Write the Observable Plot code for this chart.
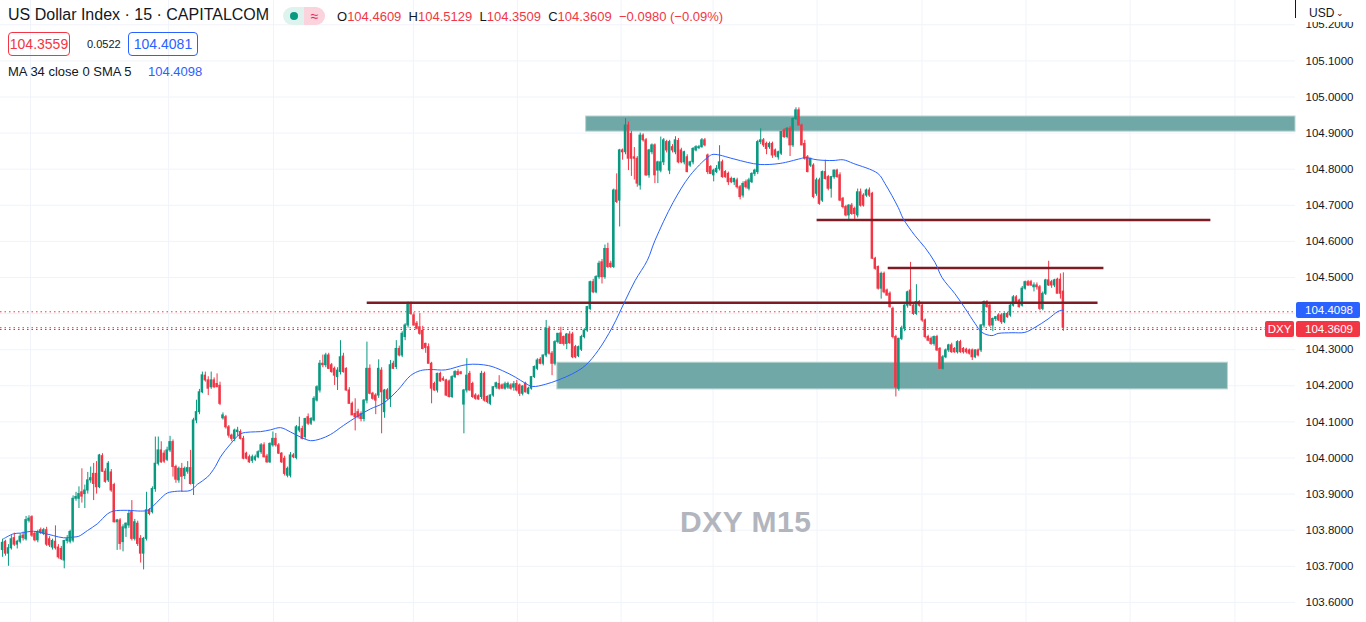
<!DOCTYPE html>
<html><head><meta charset="utf-8">
<script src="https://cdn.jsdelivr.net/npm/d3@7"></script>
<script src="https://cdn.jsdelivr.net/npm/@observablehq/plot@0.6"></script>
<style>
html,body{margin:0;padding:0;background:#fff;overflow:hidden}
body{font-family:"Liberation Sans",Arial,sans-serif;color:#131722}
#wrap{position:relative;width:1366px;height:622px}
#wrap svg{position:absolute;left:0;top:0}
.ov{position:absolute;white-space:nowrap}
.box{position:absolute;box-sizing:border-box;border-radius:4px;font-size:14px;text-align:center;line-height:22px;height:24px}
.tag{position:absolute;box-sizing:border-box;height:16px;line-height:16px;font-size:11.5px;color:#fff}
</style></head><body><div id="wrap"></div>
<script>
// ---------- header texts ----------
const title = "US Dollar Index · 15 · CAPITALCOM";
const lastO = 104.4609, lastH = 104.5129, lastL = 104.3509, lastC = 104.3609;
const changeAbs = "−0.0980", changePct = "(−0.09%)";
const bidText = "104.3559", spreadText = "0.0522", askText = "104.4081";
const maLabel = "MA 34 close 0 SMA 5", maLast = 104.4098;
const symbolTag = "DXY", currency = "USD";
const watermark = "DXY M15";

// ---------- price axis ----------
const yTicks = [103.6,103.7,103.8,103.9,104.0,104.1,104.2,104.3,104.4,104.5,104.6,104.7,104.8,104.9,105.0,105.1,105.2];
// the 104.4000 label sits under the price tags, as in the original
const hiddenTick = 104.4;
// vertical grid (bar index positions)
const gridIdx = [9.5,56.5,92.2,139.8,175.2,210.5,241.8,277.2,312.9,348.3,383.7,419.4];

// ---------- candles [open, high, low, close] ----------
const segA = [
[103.745,103.775,103.725,103.765],[103.768,103.772,103.728,103.735],[103.735,103.760,103.700,103.750],[103.750,103.785,103.745,103.775],
[103.778,103.792,103.755,103.760],[103.760,103.772,103.748,103.768],[103.768,103.790,103.762,103.782],[103.785,103.795,103.770,103.778],
[103.775,103.838,103.770,103.828],[103.826,103.840,103.820,103.832],[103.836,103.840,103.780,103.785],[103.790,103.796,103.768,103.772],
[103.772,103.800,103.765,103.795],[103.800,103.806,103.788,103.792],[103.790,103.805,103.785,103.800],[103.800,103.808,103.755,103.760],
[103.775,103.782,103.752,103.758],[103.752,103.775,103.745,103.770],[103.768,103.812,103.745,103.750],[103.752,103.760,103.720,103.725],
[103.748,103.755,103.716,103.720],[103.716,103.772,103.693,103.770],[103.770,103.785,103.762,103.775],[103.768,103.800,103.762,103.795],
[103.771,103.895,103.765,103.887],[103.887,103.905,103.880,103.892],[103.887,103.920,103.860,103.900],[103.905,103.970,103.875,103.893],
[103.900,103.925,103.860,103.910],[103.910,103.960,103.900,103.938],[103.938,103.975,103.930,103.944],[103.956,103.985,103.882,103.928],
[103.956,103.990,103.900,103.919],[103.919,104.010,103.915,104.007],[104.005,104.012,103.960,103.962],[103.962,103.970,103.930,103.934],
[103.938,103.990,103.932,103.984],[103.960,103.968,103.905,103.910],[103.925,103.930,103.820,103.822],[103.822,103.830,103.744,103.827],
[103.827,103.832,103.745,103.762],[103.767,103.815,103.740,103.808],[103.805,103.820,103.780,103.818],[103.813,103.855,103.805,103.845],
[103.850,103.882,103.770,103.776],[103.776,103.830,103.770,103.822],[103.818,103.825,103.755,103.762],[103.776,103.785,103.709,103.735],
[103.735,103.780,103.690,103.776],[103.776,103.905,103.770,103.855],[103.855,103.860,103.840,103.845],[103.850,103.920,103.845,103.914],
[103.914,104.058,103.905,103.984],[103.984,104.058,103.978,104.021],[104.021,104.045,103.985,103.988],[104.012,104.020,103.985,103.990],
[103.995,104.030,103.990,104.021],[104.021,104.060,104.015,104.044],[104.044,104.050,103.947,103.975],[103.975,103.980,103.930,103.940],
[103.938,103.975,103.930,103.970],[103.970,103.985,103.905,103.948],[103.950,103.975,103.940,103.970],[103.962,103.990,103.955,103.972],
[103.972,104.021,103.925,103.928],[103.928,104.110,103.896,104.104],[104.104,104.160,104.095,104.127],[104.127,104.190,104.120,104.182],
[104.182,104.238,104.178,104.229],[104.228,104.238,104.210,104.215],[104.215,104.225,104.173,104.192],[104.196,104.238,104.190,104.215],
[104.215,104.222,104.192,104.196]
];
const segB = [
[104.205,104.233,104.195,104.196],[104.200,104.210,104.145,104.150],[104.110,104.125,104.105,104.118],[104.113,104.118,104.080,104.085],
[104.085,104.090,104.055,104.062],[104.062,104.066,104.045,104.053],[104.053,104.080,104.045,104.076],[104.072,104.085,104.060,104.076],
[104.072,104.078,104.050,104.053],[104.053,104.060,103.995,103.998],[104.012,104.016,103.995,103.998],[104.002,104.008,103.985,103.988],
[103.992,104.008,103.985,104.002],[103.995,104.008,103.990,104.002],[104.002,104.020,103.998,104.016],[104.016,104.040,104.010,104.035],
[104.035,104.042,104.000,104.002],[104.004,104.010,103.985,103.988],[103.988,104.042,103.985,104.039],[104.035,104.072,104.030,104.053],
[104.053,104.068,104.030,104.035],[104.035,104.040,104.010,104.012],[104.012,104.015,103.985,103.988],[103.998,104.005,103.950,103.956],
[103.951,103.975,103.945,103.970],[103.951,104.015,103.945,104.007],[104.007,104.012,103.998,104.002],[104.000,104.090,103.995,104.085],
[104.076,104.113,104.070,104.085],[104.080,104.088,104.050,104.053],[104.058,104.110,104.050,104.108],[104.113,104.122,104.090,104.095],
[104.095,104.112,104.090,104.108],[104.104,104.170,104.100,104.164],[104.159,104.200,104.155,104.196],[104.187,104.270,104.180,104.261],
[104.261,104.285,104.250,104.257],[104.257,104.290,104.250,104.284],[104.284,104.290,104.245,104.247],[104.257,104.262,104.235,104.238],
[104.247,104.252,104.201,104.228],[104.224,104.250,104.187,104.242],[104.238,104.325,104.230,104.279],[104.281,104.290,104.235,104.238],
[104.247,104.250,104.185,104.187],[104.187,104.195,104.150,104.150],[104.150,104.155,104.118,104.118],[104.122,104.164,104.075,104.113],
[104.127,104.135,104.108,104.113],[104.122,104.128,104.100,104.108],[104.108,104.162,104.100,104.159],[104.159,104.321,104.150,104.247],
[104.247,104.258,104.175,104.178],[104.178,104.182,104.160,104.164],[104.173,104.178,104.120,104.159],[104.173,104.272,104.165,104.247],
[104.242,104.250,104.067,104.182],[104.127,104.190,104.110,104.187],[104.187,104.192,104.160,104.164],[104.164,104.270,104.140,104.257],
[104.261,104.268,104.245,104.247],[104.252,104.325,104.245,104.302],[104.302,104.310,104.280,104.284],[104.284,104.350,104.278,104.344],
[104.335,104.372,104.325,104.367],[104.367,104.432,104.360,104.427],[104.427,104.432,104.395,104.399],[104.395,104.402,104.365,104.367],
[104.372,104.378,104.355,104.358],[104.362,104.400,104.340,104.344],[104.352,104.365,104.300,104.302]
];
const segC = [
[104.316,104.318,104.290,104.305],[104.307,104.316,104.261,104.261],[104.261,104.265,104.150,104.192],[104.205,104.210,104.185,104.187],
[104.187,104.235,104.180,104.233],[104.233,104.238,104.210,104.212],[104.219,104.225,104.212,104.215],[104.215,104.218,104.170,104.173],
[104.212,104.216,104.166,104.169],[104.169,104.228,104.165,104.224],[104.224,104.242,104.220,104.238],[104.238,104.245,104.228,104.230],
[104.237,104.240,104.230,104.233],[104.148,104.190,104.067,104.187],[104.187,104.275,104.180,104.228],[104.233,104.240,104.185,104.187],
[104.205,104.210,104.165,104.169],[104.173,104.178,104.160,104.164],[104.171,104.175,104.160,104.162],[104.169,104.240,104.162,104.233],
[104.233,104.238,104.155,104.159],[104.169,104.172,104.150,104.155],[104.150,104.175,104.145,104.173],[104.173,104.198,104.168,104.196],
[104.196,104.210,104.190,104.207],[104.205,104.228,104.188,104.192],[104.201,104.205,104.190,104.192],[104.192,104.210,104.188,104.204],
[104.195,104.210,104.190,104.205],[104.201,104.206,104.188,104.192],[104.195,104.212,104.185,104.204],[104.205,104.215,104.183,104.187],
[104.201,104.205,104.170,104.178],[104.178,104.200,104.172,104.198],[104.205,104.210,104.180,104.182],[104.178,104.196,104.175,104.192],
[104.192,104.225,104.188,104.224],[104.224,104.255,104.220,104.252],[104.247,104.275,104.242,104.270],[104.272,104.278,104.258,104.261],
[104.261,104.285,104.255,104.284],[104.284,104.381,104.278,104.358],[104.358,104.365,104.285,104.289],[104.289,104.295,104.228,104.261],
[104.261,104.325,104.255,104.321],[104.321,104.345,104.316,104.344],[104.345,104.362,104.315,104.316],[104.335,104.338,104.310,104.316],
[104.316,104.345,104.300,104.342],[104.342,104.350,104.315,104.318],[104.342,104.348,104.275,104.279],[104.307,104.312,104.275,104.279],
[104.282,104.310,104.278,104.307],[104.300,104.340,104.295,104.335],[104.335,104.358,104.330,104.353],[104.353,104.420,104.348,104.418],
[104.413,104.490,104.408,104.487],[104.487,104.495,104.455,104.459],[104.459,104.505,104.455,104.501],[104.501,104.545,104.495,104.538],
[104.542,104.550,104.482,104.501],[104.501,104.590,104.495,104.579],[104.579,104.595,104.525,104.529],[104.538,104.545,104.525,104.529],
[104.529,104.745,104.525,104.741],[104.741,104.787,104.705,104.709],[104.713,104.855,104.640,104.852],[104.852,104.856,104.825,104.847],
[104.847,104.940,104.840,104.921],[104.921,104.930,104.796,104.829],[104.898,104.905,104.780,104.829],[104.833,104.860,104.770,104.829],
[104.829,104.835,104.750,104.760],[104.755,104.900,104.742,104.893]
];
const segD = [
[104.893,104.898,104.875,104.880],[104.880,104.885,104.780,104.783],[104.783,104.855,104.775,104.852],[104.847,104.870,104.840,104.866],
[104.866,104.870,104.760,104.783],[104.796,104.822,104.760,104.819],[104.796,104.889,104.790,104.819],[104.819,104.885,104.810,104.880],
[104.875,104.880,104.845,104.852],[104.796,104.880,104.785,104.875],[104.861,104.868,104.845,104.852],[104.847,104.890,104.840,104.880],
[104.878,104.885,104.815,104.819],[104.852,104.858,104.815,104.819],[104.819,104.850,104.812,104.847],[104.833,104.840,104.790,104.792],
[104.810,104.822,104.805,104.819],[104.819,104.860,104.812,104.856],[104.852,104.865,104.848,104.861],[104.858,104.866,104.855,104.861],
[104.861,104.885,104.858,104.880],[104.880,104.885,104.862,104.866],[104.838,104.842,104.785,104.792],[104.806,104.810,104.785,104.787],
[104.783,104.800,104.765,104.796],[104.792,104.810,104.788,104.801],[104.801,104.865,104.795,104.819],[104.819,104.825,104.775,104.778],
[104.792,104.796,104.775,104.778],[104.787,104.792,104.755,104.764],[104.773,104.778,104.760,104.764],[104.764,104.775,104.755,104.773],
[104.769,104.775,104.745,104.750],[104.750,104.755,104.715,104.723],[104.727,104.765,104.720,104.759],[104.764,104.770,104.745,104.750],
[104.746,104.775,104.740,104.769],[104.764,104.790,104.760,104.787],[104.787,104.800,104.780,104.796],[104.792,104.880,104.785,104.875],
[104.875,104.912,104.868,104.880],[104.880,104.885,104.860,104.866],[104.870,104.875,104.840,104.856],[104.861,104.875,104.855,104.870],
[104.870,104.875,104.830,104.838],[104.852,104.856,104.832,104.838],[104.833,104.850,104.825,104.847],[104.843,104.905,104.838,104.903],
[104.907,104.912,104.885,104.889],[104.889,104.915,104.884,104.912],[104.912,104.918,104.835,104.866],[104.866,104.942,104.860,104.939],
[104.939,104.970,104.935,104.963],[104.963,104.970,104.920,104.921],[104.921,104.925,104.865,104.866],[104.870,104.880,104.825,104.829],
[104.833,104.838,104.790,104.792],[104.810,104.830,104.805,104.829],[104.810,104.815,104.718,104.723],[104.732,104.775,104.725,104.769],
[104.769,104.775,104.700,104.704],[104.713,104.795,104.708,104.792],[104.792,104.825,104.770,104.773],[104.778,104.783,104.740,104.746],
[104.746,104.780,104.720,104.778],[104.778,104.798,104.772,104.796],[104.796,104.800,104.775,104.778],[104.783,104.790,104.710,104.713],
[104.718,104.722,104.690,104.695],[104.695,104.700,104.668,104.672],[104.672,104.702,104.655,104.699]
];
const segE = [
[104.699,104.705,104.672,104.676],[104.690,104.695,104.660,104.676],[104.672,104.745,104.665,104.736],[104.736,104.745,104.695,104.699],
[104.727,104.732,104.695,104.699],[104.727,104.745,104.722,104.741],[104.741,104.748,104.722,104.727],[104.732,104.736,104.550,104.552],
[104.552,104.556,104.520,104.524],[104.529,104.532,104.465,104.469],[104.469,104.515,104.440,104.510],[104.510,104.515,104.455,104.459],
[104.464,104.468,104.448,104.450],[104.455,104.460,104.415,104.418],[104.413,104.418,104.330,104.335],[104.335,104.340,104.169,104.196],
[104.192,104.332,104.185,104.330],[104.330,104.365,104.325,104.358],[104.358,104.425,104.350,104.422],[104.422,104.462,104.415,104.459],
[104.464,104.542,104.420,104.422],[104.422,104.428,104.395,104.399],[104.399,104.480,104.395,104.432],[104.432,104.436,104.418,104.422],
[104.422,104.428,104.376,104.381],[104.381,104.385,104.330,104.335],[104.335,104.340,104.322,104.325],[104.330,104.335,104.312,104.316],
[104.316,104.338,104.310,104.335],[104.335,104.340,104.295,104.298],[104.302,104.306,104.245,104.247],[104.247,104.284,104.244,104.279],
[104.279,104.302,104.275,104.298],[104.298,104.315,104.292,104.312],[104.312,104.318,104.290,104.293],[104.302,104.306,104.290,104.293],
[104.293,104.325,104.288,104.321],[104.321,104.326,104.290,104.293],[104.302,104.306,104.288,104.293],[104.300,104.304,104.288,104.293],
[104.298,104.302,104.285,104.289],[104.298,104.302,104.270,104.279],[104.279,104.300,104.275,104.298],[104.298,104.302,104.280,104.284],
[104.298,104.370,104.292,104.367],[104.367,104.435,104.360,104.432],[104.432,104.436,104.415,104.418],[104.422,104.428,104.362,104.367],
[104.367,104.388,104.350,104.385],[104.385,104.392,104.378,104.390],[104.395,104.400,104.378,104.381],[104.395,104.400,104.370,104.376],
[104.376,104.402,104.372,104.399],[104.399,104.404,104.387,104.390],[104.395,104.425,104.390,104.422],[104.422,104.450,104.418,104.445],
[104.445,104.450,104.428,104.432],[104.436,104.440,104.415,104.418],[104.422,104.475,104.418,104.469],[104.469,104.490,104.465,104.487],
[104.487,104.492,104.475,104.478],[104.487,104.492,104.475,104.478],[104.473,104.485,104.460,104.478],[104.478,104.485,104.465,104.473],
[104.473,104.478,104.408,104.413],[104.413,104.460,104.408,104.455],[104.455,104.495,104.450,104.492],[104.492,104.545,104.475,104.478],
[104.487,104.492,104.470,104.478],[104.478,104.495,104.472,104.492],[104.494,104.498,104.455,104.455],[104.494,104.510,104.440,104.455],
[lastO,lastH,lastL,lastC]
];

// ---------- MA 34 ----------
const maIdx = [0.3,3.7,6.1,10.5,13.9,17.3,20.7,24.1,25.9,28.9,32.3,35.7,37.8,42.5,46.9,49.3,51.4,53.7,56.1,59.5,63.9,66.3,69.7,72.4,74.1,77.6,81,84.4,87.8,91.2,94.6,98,101.4,104.8,108.2,111.6,116,120.7,125.2,129.6,134.4,138.8,142.2,145.6,150.7,158.2,165.3,170.1,174.5,177.9,180.3,184.7,189.1,193.9,198.3,202.7,207.5,211.9,215.3,219.4,222,228.2,234,240,241.8,248.6,253.4,257.8,264.6,271.4,273.1,277.2,282.6,286.1,289.5,297.9,300.3,304.8,306.5,310.5,313.9,317.3,319.7,324.1,327.6,331,333.3,336.7,338.8,343.5,347.9,351.4,355.8,359.2,361];
const maVal = [103.776,103.790,103.792,103.797,103.792,103.785,103.779,103.781,103.783,103.799,103.818,103.845,103.853,103.855,103.853,103.855,103.868,103.887,103.903,103.908,103.910,103.927,103.947,103.976,104.002,104.039,104.067,104.072,104.073,104.078,104.084,104.072,104.058,104.048,104.053,104.065,104.090,104.115,104.136,104.152,104.187,104.228,104.242,104.245,104.244,104.259,104.256,104.242,104.224,104.207,104.198,104.204,104.216,104.233,104.256,104.298,104.362,104.436,104.492,104.547,104.602,104.708,104.783,104.833,104.841,104.829,104.819,104.813,104.816,104.829,104.832,104.826,104.824,104.826,104.816,104.788,104.760,104.694,104.663,104.616,104.583,104.542,104.500,104.455,104.414,104.372,104.348,104.339,104.345,104.347,104.348,104.362,104.385,104.406,104.4098];

// ---------- drawings ----------
const zoneFrom = [198.6, 188.8], zoneTo = [440, 417], zoneLo = [104.904, 104.190], zoneHi = [104.946, 104.264];
const levelFrom = [124.1, 277.2, 301.4], levelTo = [372.8, 411.2, 374.8], levelPrice = [104.430, 104.659, 104.526];
const dotPrice = [104.405, 104.3609, 104.3559], dotColor = ["#f23645", "#f23645", "#2962ff"];

// ---------- build ----------
const candles = [...segA, ...segB, ...segC, ...segD, ...segE].map((d, i) => ({i, o: d[0], h: d[1], l: d[2], c: d[3]}));
const ma = maIdx.map((x, k) => ({x, y: maVal[k]}));
const zones = zoneFrom.map((f, k) => ({from: f, to: zoneTo[k], lo: zoneLo[k], hi: zoneHi[k]}));
const levels = levelFrom.map((f, k) => ({from: f, to: levelTo[k], price: levelPrice[k]}));
const dots = dotPrice.map((p, k) => ({price: p, color: dotColor[k]}));
const axisTicks = yTicks.filter(t => Math.abs(t - hiddenTick) > 1e-9);
const UP = "#089981", DN = "#f23645";
const col = d => d.c >= d.o ? UP : DN;

const chart = Plot.plot({
  width: 1366, height: 622,
  marginLeft: 0, marginRight: 71, marginTop: 0, marginBottom: 0,
  x: {domain: [-0.7, 440], axis: null},
  y: {domain: [103.5443, 105.2673], axis: null},
  style: {background: "#ffffff", fontFamily: "Liberation Sans, Arial, sans-serif", color: "#131722", overflow: "visible"},
  marks: [
    Plot.ruleY(yTicks, {stroke: "#f0f3fa", strokeWidth: 1}),
    Plot.ruleX(gridIdx, {stroke: "#f0f3fa", strokeWidth: 1}),
    Plot.rect(zones, {x1: "from", x2: "to", y1: "lo", y2: "hi", fill: "#6fa8a6", stroke: "#b7d5d3", strokeWidth: 1}),
    Plot.ruleY(dots, {y: "price", stroke: "color", strokeWidth: 1, strokeDasharray: "1.5,3"}),
    Plot.ruleX(candles, {x: "i", y1: "l", y2: "h", stroke: col, strokeWidth: 1}),
    Plot.rect(candles, {x1: d => d.i - 0.42, x2: d => d.i + 0.42, y1: "o", y2: "c", fill: col, insetTop: -0.5, insetBottom: -0.5}),
    Plot.ruleY(levels, {x1: "from", x2: "to", y: "price", stroke: "#7c1c24", strokeWidth: 2.5}),
    Plot.line(ma, {x: "x", y: "y", stroke: "#2962ff", strokeWidth: 1, curve: "catmull-rom"}),
    Plot.axisY(axisTicks, {anchor: "right", tickSize: 0, tickPadding: 10, tickFormat: d3.format(".4f"), fontSize: 11.5, fill: "#131722"})
  ]
});
const wrap = document.getElementById("wrap");
wrap.appendChild(chart);

const ys = chart.scale("y");
const Y = v => ys.apply(v);

function add(html, css, cls) {
  const d = document.createElement("div");
  d.className = cls || "ov";
  d.innerHTML = html;
  Object.assign(d.style, css);
  wrap.appendChild(d);
  return d;
}
const fmt4 = d3.format(".4f");
// top-right cover + currency
add("", {left: "1296px", top: "0px", width: "70px", height: "22px", background: "#fff"});
add("", {left: "1295px", top: "0px", width: "1px", height: "18px", background: "#131722"});
add(currency + '<span style="font-size:9px;margin-left:2px;position:relative;top:-1px">&#8964;</span>', {left: "1309px", top: "6px", fontSize: "12px", color: "#131722"});
// price tags on the axis
add(fmt4(maLast), {left: "1296px", top: (Y(maLast) - 7.5) + "px", width: "64px", background: "#2962ff", paddingLeft: "9px", borderRadius: "2px"}, "tag");
add(fmt4(lastC), {left: "1296px", top: (Y(lastC) - 6.5) + "px", width: "64px", background: "#f23645", paddingLeft: "9px", borderRadius: "2px"}, "tag");
add(symbolTag, {left: "1265px", top: (Y(lastC) - 6.5) + "px", width: "29px", background: "#f23645", textAlign: "center", borderRadius: "2px"}, "tag");
// watermark
add(watermark, {left: "680px", top: "505px", fontSize: "30px", fontWeight: "bold", color: "#b2b5be", letterSpacing: "0.5px"});
// header row 1
add(title, {left: "8px", top: "6px", fontSize: "16px", color: "#131722"});
add('<span style="display:inline-block;width:21px;height:18px;background:#dff3ee;border-radius:9px 0 0 9px;position:relative;vertical-align:top"><span style="position:absolute;left:7px;top:5px;width:8px;height:8px;border-radius:4px;background:#089981"></span></span><span style="display:inline-block;width:21px;height:18px;background:#fbd3dc;border-radius:0 9px 9px 0;color:#e5245b;font-size:14px;line-height:18px;text-align:center;vertical-align:top">&#8776;</span>', {left: "283px", top: "7px"});
const red = s => '<span style="color:#f23645">' + s + '</span>';
add('O' + red(fmt4(lastO)) + '&nbsp; H' + red(fmt4(lastH)) + '&nbsp; L' + red(fmt4(lastL)) + '&nbsp; C' + red(fmt4(lastC)) + '&nbsp; ' + red(changeAbs + ' ' + changePct),
    {left: "337px", top: "9px", fontSize: "13px", color: "#131722"});
// header row 2
add(bidText, {left: "8px", top: "32px", width: "62px", border: "1px solid #f23645", color: "#f23645"}, "box");
add(spreadText, {left: "87px", top: "38px", fontSize: "11px", color: "#131722"});
add(askText, {left: "128px", top: "32px", width: "70px", border: "1px solid #2962ff", color: "#2962ff"}, "box");
// header row 3
add(maLabel, {left: "8px", top: "64px", fontSize: "13px", color: "#131722"});
add(fmt4(maLast), {left: "148px", top: "64px", fontSize: "13px", color: "#2962ff"});
</script></body></html>
